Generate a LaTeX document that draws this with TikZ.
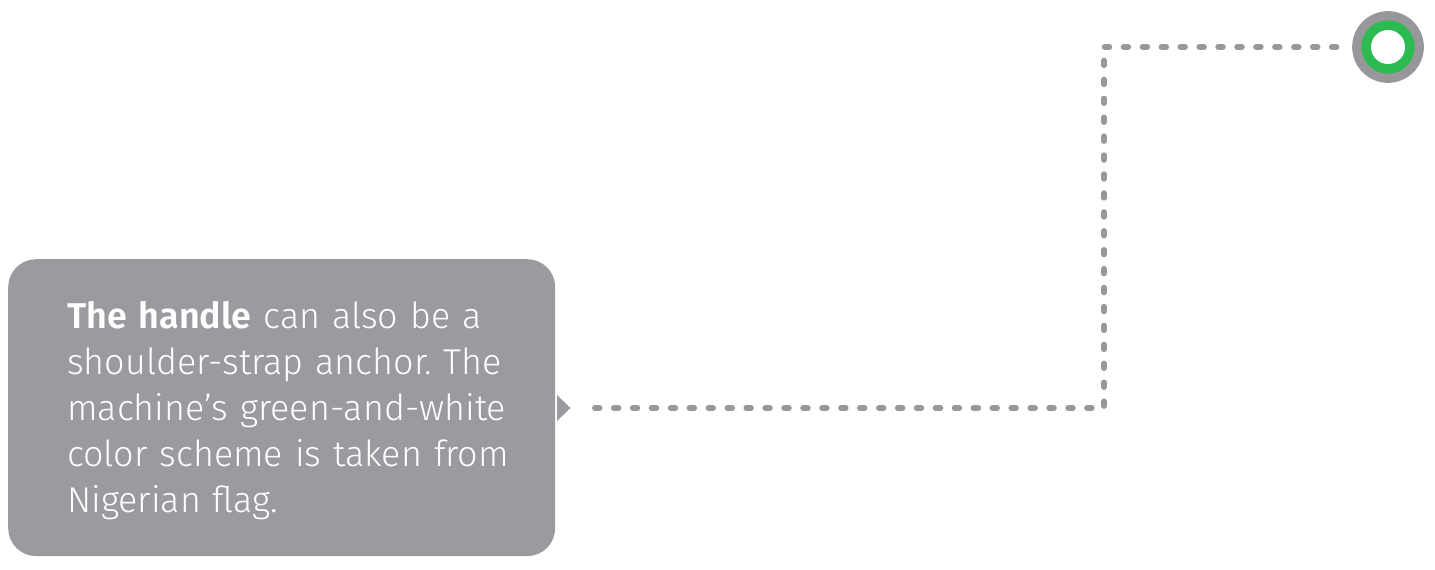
\documentclass[tikz,border=0pt]{standalone}
\usepackage{fontspec}
\setmainfont{Fira Sans}[UprightFont=* Light, BoldFont=* SemiBold]
\usetikzlibrary{positioning}
\definecolor{boxgray}{RGB}{155,154,159}
\definecolor{dotgray}{RGB}{152,151,155}
\definecolor{flaggreen}{RGB}{43,187,80}
\tikzset{
	callout/.style={fill=boxgray,rounded corners=28,minimum width=549,minimum height=298,inner sep=0},
	bodytext/.style={text=white,align=left,text width=480,inner sep=0,font=\fontsize{36}{46}\selectfont},
	dotline/.style={draw=dotgray,line width=6,line cap=round,dash pattern=on 4.5 off 14.5},
}
\begin{document}
\frenchspacing
\begin{tikzpicture}[x=1bp,y=-1bp]
	\useasboundingbox (0,0) rectangle (1435,570);
	
	% CALLOUT
	\node[callout,anchor=north west] (box) at (8,259) {};
	\fill[boxgray] (557,395) -- (570.5,408) -- (557,421) -- cycle;
	\node[bodytext,anchor=north west] (txt) at (67,301.5)
	{\textbf{The handle} can also be a\\ shoulder-strap anchor. The\\ machine’s green-and-white\\ color scheme is taken from\\ Nigerian flag.};
	
	% RING
	\node[circle,fill=dotgray,minimum size=72,inner sep=0] (ring) at (1388,47) {};
	\fill[flaggreen] (ring) circle (26.7);
	\fill[white] (ring) circle (17);
	
	% CONNECTOR
	\coordinate (start) at (595,408);
	\coordinate (corner) at (1104,47);
	\draw[dotline] (start) -| (corner) -- ([xshift=-7]ring.west);
	
\end{tikzpicture}
\end{document}
